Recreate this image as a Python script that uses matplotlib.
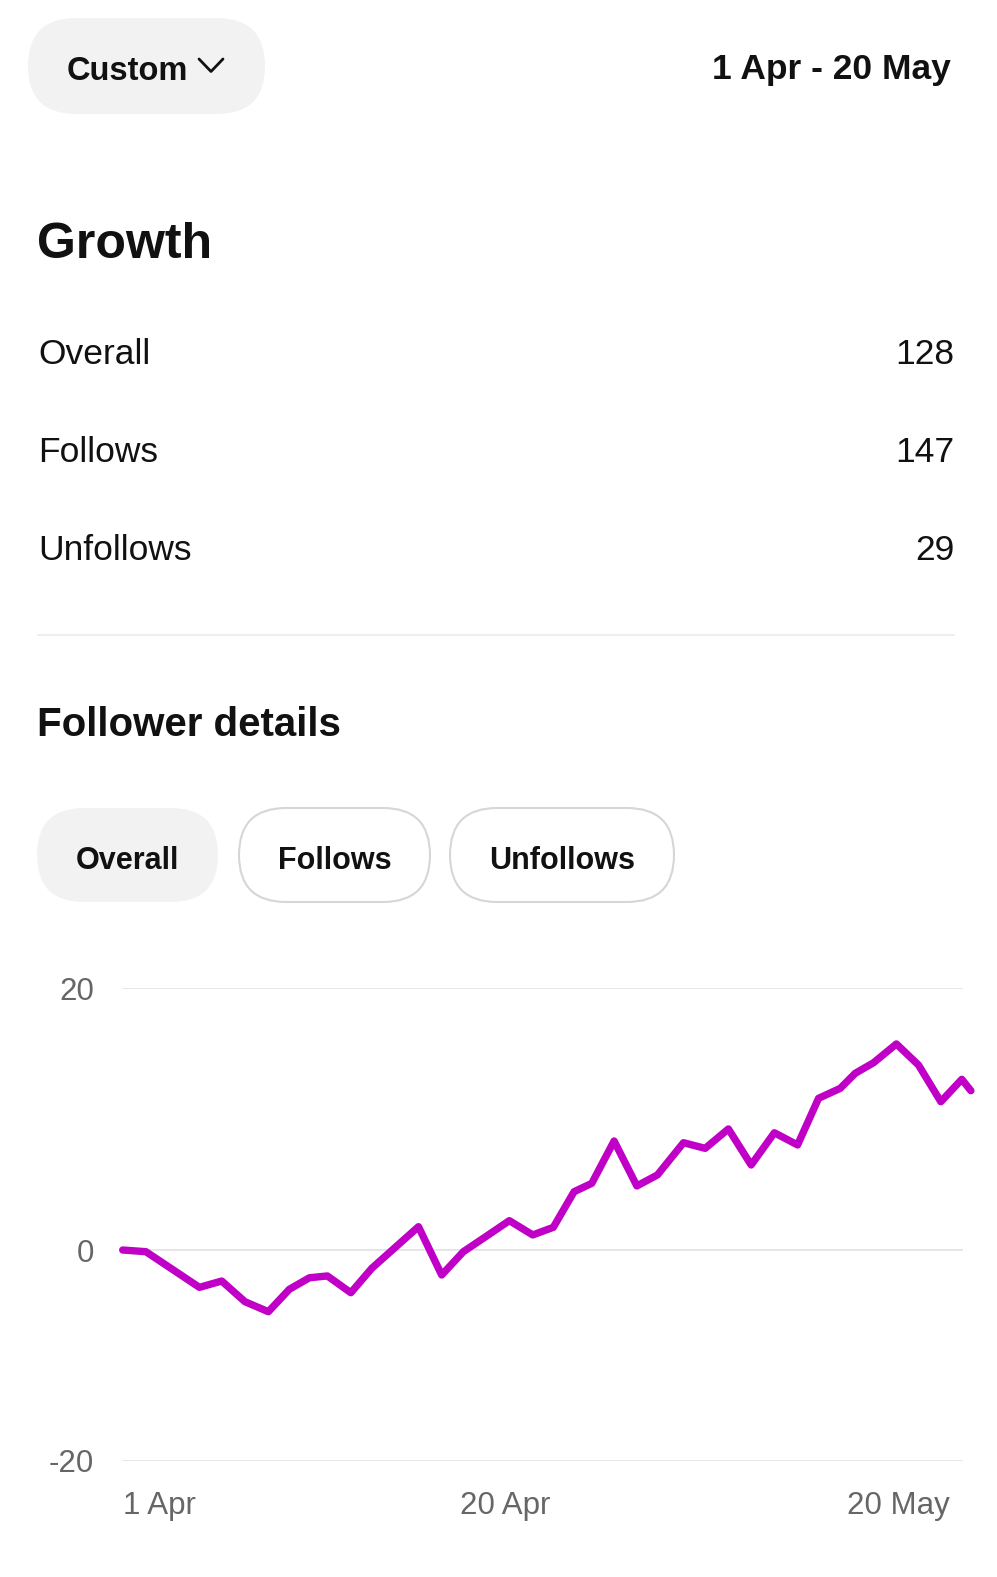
import matplotlib
matplotlib.use("Agg")
import matplotlib.pyplot as plt
from matplotlib.patches import FancyBboxPatch
import numpy as np

plt.rcParams['font.family'] = ['Liberation Sans', 'DejaVu Sans']

# header / summary values
period_button = "Custom"
date_range = "1 Apr - 20 May"
growth_labels = ["Overall", "Follows", "Unfollows"]
growth_values = [128, 147, 29]
tab_labels = ["Overall", "Follows", "Unfollows"]

# follower line (position along the time axis, net change)
day_pos = [0, 1.05, 3.47, 4.48, 5.53, 6.59, 7.54, 8.45, 9.26, 10.32,
           11.27, 13.38, 14.43, 15.41, 16.31, 17.49, 18.55, 19.48, 20.42, 21.22,
           22.23, 23.26, 24.19, 25.37, 26.35, 27.40, 28.43, 29.48, 30.53, 31.48,
           32.46, 33.14, 33.97, 35.00, 36.00, 37.01, 37.96, 38.37]
net_change = [0, -0.16, -3.54, -2.94, -4.9, -5.85, -3.72, -2.63, -2.46, -4.05,
              -1.73, 1.78, -2.37, -0.16, 0.89, 2.24, 1.15, 1.73, 4.45, 5.09,
              8.32, 4.89, 5.73, 8.19, 7.76, 9.24, 6.49, 8.95, 8.02, 11.58,
              12.34, 13.49, 14.3, 15.73, 14.12, 11.32, 13.03, 12.16]
y_ticks = [-20, 0, 20]
x_tick_pos = [0, 17.3, 35.1]
x_tick_labels = ["1 Apr", "20 Apr", "20 May"]

W, H = 997, 1577
fig = plt.figure(figsize=(W / 100, H / 100), dpi=100)
fig.patch.set_facecolor('white')

# overlay in pixel coordinates for the app chrome
ui = fig.add_axes([0, 0, 1, 1])
ui.set_xlim(0, W)
ui.set_ylim(H, 0)
ui.axis('off')


def pill(x0, x1, y0, y1, fill, edge=None):
    h = y1 - y0
    p = FancyBboxPatch((x0, y0), x1 - x0, h,
                       boxstyle="round,pad=0,rounding_size=%f" % (h / 2),
                       facecolor=fill, edgecolor=edge if edge else 'none', linewidth=1.5)
    ui.add_patch(p)


pill(28, 265, 18, 114, '#f2f2f2')
ui.text(67, 80.5, period_button, fontsize=23.5, fontweight='bold', color='#111111', va='baseline')
ui.plot([199, 211, 223], [59, 71.5, 59], color='#111111', lw=2, solid_capstyle='round')
ui.text(951, 79.5, date_range, fontsize=25.5, fontweight='bold', color='#111111', va='baseline', ha='right')

ui.text(37, 257.5, "Growth", fontsize=36, fontweight='bold', color='#111111', va='baseline')
for lab, val, base in zip(growth_labels, growth_values, [364, 462, 560]):
    ui.text(38, base, lab, fontsize=25.5, color='#111111', va='baseline')
    ui.text(954, base, str(val), fontsize=25.5, color='#111111', va='baseline', ha='right')

ui.plot([38, 954], [635, 635], color='#efefef', lw=1.5)
ui.text(37, 736, "Follower details", fontsize=29, fontweight='bold', color='#111111', va='baseline')

tab_x = [(37, 218), (239, 430), (450, 674)]
for i, (lab, (x0, x1)) in enumerate(zip(tab_labels, tab_x)):
    if i == 0:
        pill(x0, x1, 808, 902, '#f2f2f2')
    else:
        pill(x0, x1, 808, 902, 'white', '#d6d6d8')
    ui.text((x0 + x1) / 2, 869, lab, fontsize=22, fontweight='bold', color='#111111',
            va='baseline', ha='center')

# chart
top_px, bot_px = 988, 1461
left_px, right_px = 121.7, 962.7
ax = fig.add_axes([left_px / W, (H - bot_px) / H, (right_px - left_px) / W, (bot_px - top_px) / H])
ax.patch.set_alpha(0)


def fwd(v):
    v = np.asarray(v, dtype=float)
    return np.where(v >= 0, v * 13.1, v * 10.55)


def inv(u):
    u = np.asarray(u, dtype=float)
    return np.where(u >= 0, u / 13.1, u / 10.55)


ax.set_yscale('function', functions=(fwd, inv))
ax.set_ylim(-20, 20)
ax.set_xlim(-0.045, 38.0)

ax.plot(day_pos, net_change, color='#c000c6', lw=5.3, solid_joinstyle='round',
        solid_capstyle='round', clip_on=False, zorder=3)

ax.set_yticks(y_ticks)
ax.set_yticklabels([str(v) for v in y_ticks])
ax.yaxis.grid(True, color='#e2e2e6', lw=1.2)
ax.set_axisbelow(True)
for s in ax.spines.values():
    s.set_visible(False)
ax.tick_params(axis='y', length=0, pad=20, labelsize=22.5, labelcolor='#666666')
ax.tick_params(axis='x', length=0, pad=38.5, labelsize=22.5, labelcolor='#666666')
ax.set_xticks(x_tick_pos)
ax.set_xticklabels(x_tick_labels)
for lbl, ha in zip(ax.get_xticklabels(), ['left', 'center', 'center']):
    lbl.set_ha(ha)
    lbl.set_va('baseline')

fig.savefig('out.png', dpi=100, facecolor='white')
